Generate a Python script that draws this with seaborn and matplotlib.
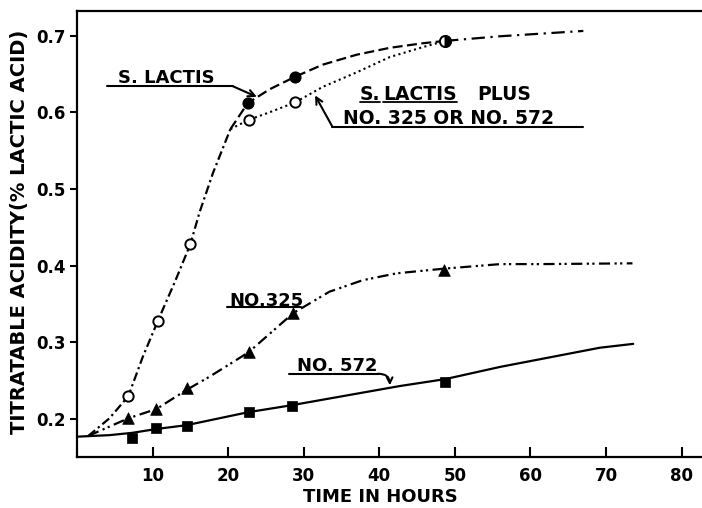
import matplotlib
matplotlib.use("Agg")
import matplotlib.pyplot as plt
import seaborn as sns
import pandas as pd

# ---------------- data ----------------
# measured points
early_x = [6.8, 10.7, 15.0]            # common S. lactis / S. lactis plus points (open circles)
early_y = [0.230, 0.328, 0.428]
lactis_x = [22.6, 28.8, 48.7]          # S. lactis (filled circles)
lactis_y = [0.612, 0.646, 0.693]
plus_x = [22.7, 28.9, 48.7]            # S. lactis plus No.325 or No.572 (open circles)
plus_y = [0.590, 0.613, 0.693]
n325_x = [6.8, 10.5, 14.5, 22.7, 28.6, 48.5]    # No.325 (triangles)
n325_y = [0.201, 0.213, 0.240, 0.287, 0.338, 0.394]
n572_x = [7.3, 10.5, 14.5, 22.7, 28.4, 48.7]    # No.572 (squares)
n572_y = [0.175, 0.188, 0.191, 0.209, 0.217, 0.248]

# hand-drawn curves
shared_curve_x = [1.5, 4.3, 6.8, 8.7, 10.7, 13.0, 15.0, 16.2, 18.0, 20.3]
shared_curve_y = [0.178, 0.201, 0.230, 0.281, 0.328, 0.380, 0.428, 0.469, 0.521, 0.578]
lactis_curve_x = [20.3, 22.6, 25.5, 28.8, 32.5, 37.0, 41.4, 45.8, 48.7]
lactis_curve_y = [0.578, 0.612, 0.630, 0.646, 0.662, 0.675, 0.684, 0.690, 0.693]
plus_curve_x = [20.3, 22.7, 25.5, 28.9, 32.5, 37.0, 41.4, 45.8, 48.7]
plus_curve_y = [0.578, 0.590, 0.600, 0.613, 0.633, 0.652, 0.672, 0.685, 0.693]
tail_curve_x = [48.7, 55.9, 67.0]
tail_curve_y = [0.693, 0.699, 0.706]
n325_curve_x = [1.5, 6.8, 10.5, 14.5, 17.5, 19.3, 22.7, 28.6, 33.4, 37.8, 42.3, 48.5, 56.0, 61.3, 73.5]
n325_curve_y = [0.178, 0.201, 0.213, 0.238, 0.255, 0.266, 0.287, 0.338, 0.366, 0.381, 0.390, 0.396, 0.402, 0.402, 0.403]
n572_curve_x = [0.0, 4.3, 7.3, 10.5, 14.5, 22.7, 28.4, 42.7, 48.7, 56.0, 69.2, 73.6]
n572_curve_y = [0.177, 0.179, 0.182, 0.187, 0.192, 0.209, 0.218, 0.243, 0.252, 0.268, 0.293, 0.298]

x_ticks = [10, 20, 30, 40, 50, 60, 70, 80]
y_ticks = [0.2, 0.3, 0.4, 0.5, 0.6, 0.7]
x_label = "TIME IN HOURS"
y_label = "TITRATABLE ACIDITY(% LACTIC ACID)"

# ---------------- style ----------------
sns.set_theme(style="ticks")
plt.rcParams["font.family"] = ["DejaVu Sans"]
plt.rcParams["font.weight"] = "bold"

fig = plt.figure(figsize=(7.02, 5.08), dpi=100)
fig.patch.set_facecolor("white")
ax = fig.add_axes([77 / 702, 1 - 457 / 508, 625 / 702, 446 / 508])
ax.set_facecolor("white")

K = "black"
LW = 1.6


def curve(xs, ys, ls, lw=LW):
    df = pd.DataFrame({"x": xs, "y": ys})
    sns.lineplot(data=df, x="x", y="y", ax=ax, color=K, lw=lw,
                 linestyle=ls, sort=False, estimator=None)


curve(shared_curve_x, shared_curve_y, (0, (4, 1.6, 1, 1.6)))
curve(lactis_curve_x, lactis_curve_y, (0, (4.5, 2)))
curve(plus_curve_x, plus_curve_y, (0, (1, 1.6)), lw=1.5)
curve(tail_curve_x, tail_curve_y, (0, (6, 2.5, 1, 2.5)))
curve(n325_curve_x, n325_curve_y, (0, (5, 2, 1, 1.5, 1, 2)))
curve(n572_curve_x, n572_curve_y, "-")

# markers
sns.scatterplot(x=early_x, y=early_y, ax=ax, marker="o", s=55,
                facecolor="white", edgecolor=K, linewidth=1.4, zorder=5)
sns.scatterplot(x=plus_x, y=plus_y, ax=ax, marker="o", s=55,
                facecolor="white", edgecolor=K, linewidth=1.4, zorder=5)
sns.scatterplot(x=lactis_x[:-1], y=lactis_y[:-1], ax=ax, marker="o", s=60,
                facecolor=K, edgecolor=K, linewidth=1.0, zorder=6)
ax.plot(lactis_x[-1:], lactis_y[-1:], marker="o", ms=8, fillstyle="right",
        markerfacecolor=K, markerfacecoloralt="white", markeredgecolor=K,
        mew=1.4, ls="none", zorder=7)
sns.scatterplot(x=n325_x, y=n325_y, ax=ax, marker="^", s=70,
                facecolor=K, edgecolor=K, linewidth=0.5, zorder=5)
sns.scatterplot(x=n572_x, y=n572_y, ax=ax, marker="s", s=60,
                facecolor=K, edgecolor=K, linewidth=0.5, zorder=5)

# ---------------- axes ----------------
ax.set_xlim(0, 82.7)
ax.set_ylim(0.1505, 0.732)
ax.set_xticks(x_ticks)
ax.set_xticklabels([str(v) for v in x_ticks])
ax.set_yticks(y_ticks)
ax.set_yticklabels([f"{v:.1f}" for v in y_ticks])
ax.tick_params(axis="x", direction="in", length=7, width=1.5, pad=7,
               labelsize=12, colors=K)
ax.tick_params(axis="y", direction="out", length=5, width=1.5, pad=3,
               labelsize=12, colors=K)
for lab in ax.get_xticklabels() + ax.get_yticklabels():
    lab.set_fontweight("bold")
for side in ["left", "bottom", "top"]:
    ax.spines[side].set_visible(True)
    ax.spines[side].set_linewidth(1.6)
    ax.spines[side].set_color(K)
ax.spines["right"].set_visible(False)
ax.grid(False)

ax.set_xlabel(x_label, fontsize=13, fontweight="bold", color=K, va="center")
ax.xaxis.set_label_coords((380 - 77) / 625, (457 - 497) / 446)
ax.set_ylabel(y_label, fontsize=14, fontweight="bold", color=K, va="center")
ax.yaxis.set_label_coords((20 - 77) / 625, (457 - 232) / 446)

# ---------------- annotations ----------------
TS = 13
ax.text(5.4, 0.638, "S. LACTIS", fontsize=TS, fontweight="bold", color=K,
        ha="left", va="baseline")
ax.plot([4.0, 20.6], [0.634, 0.634], color=K, lw=1.5)
ax.annotate("", xy=(23.8, 0.620), xytext=(20.6, 0.634),
            arrowprops=dict(arrowstyle="->", color=K, lw=1.5,
                            shrinkA=0, shrinkB=0, mutation_scale=12))

pieces = []
for xp, s in [(37.4, "S."), (40.5, "LACTIS"), (53.0, "PLUS")]:
    pieces.append(ax.text(xp, 0.616, s, fontsize=13.5, fontweight="bold",
                          color=K, ha="left", va="baseline"))
ax.text(35.2, 0.585, "NO. 325 OR NO. 572", fontsize=13.5, fontweight="bold",
        color=K, ha="left", va="baseline")
ax.plot([33.8, 67.0], [0.581, 0.581], color=K, lw=1.5)
ax.annotate("", xy=(31.5, 0.622), xytext=(33.8, 0.581),
            arrowprops=dict(arrowstyle="->", color=K, lw=1.5,
                            shrinkA=0, shrinkB=0, mutation_scale=12))

ax.text(20.1, 0.348, "NO.325", fontsize=TS, fontweight="bold", color=K,
        ha="left", va="baseline")
ax.plot([19.9, 29.7], [0.3455, 0.3455], color=K, lw=1.5)

ax.text(29.1, 0.262, "NO. 572", fontsize=TS, fontweight="bold", color=K,
        ha="left", va="baseline")
ax.plot([28.1, 39.8], [0.259, 0.259], color=K, lw=1.5)
ax.annotate("", xy=(41.4, 0.244), xytext=(39.8, 0.259),
            arrowprops=dict(arrowstyle="->", color=K, lw=1.5,
                            shrinkA=0, shrinkB=0, mutation_scale=10,
                            connectionstyle="arc3,rad=-0.5"))

# underline "S." and "LACTIS" in the second label
fig.canvas.draw()
inv = ax.transData.inverted()
for t in pieces[:2]:
    bb = t.get_window_extent()
    (x0, y0), (x1, _) = inv.transform([(bb.x0, bb.y0), (bb.x1, bb.y0)])
    ax.plot([x0, x1], [0.613, 0.613], color=K, lw=1.3)

fig.savefig("out.png", dpi=100, facecolor="white")
